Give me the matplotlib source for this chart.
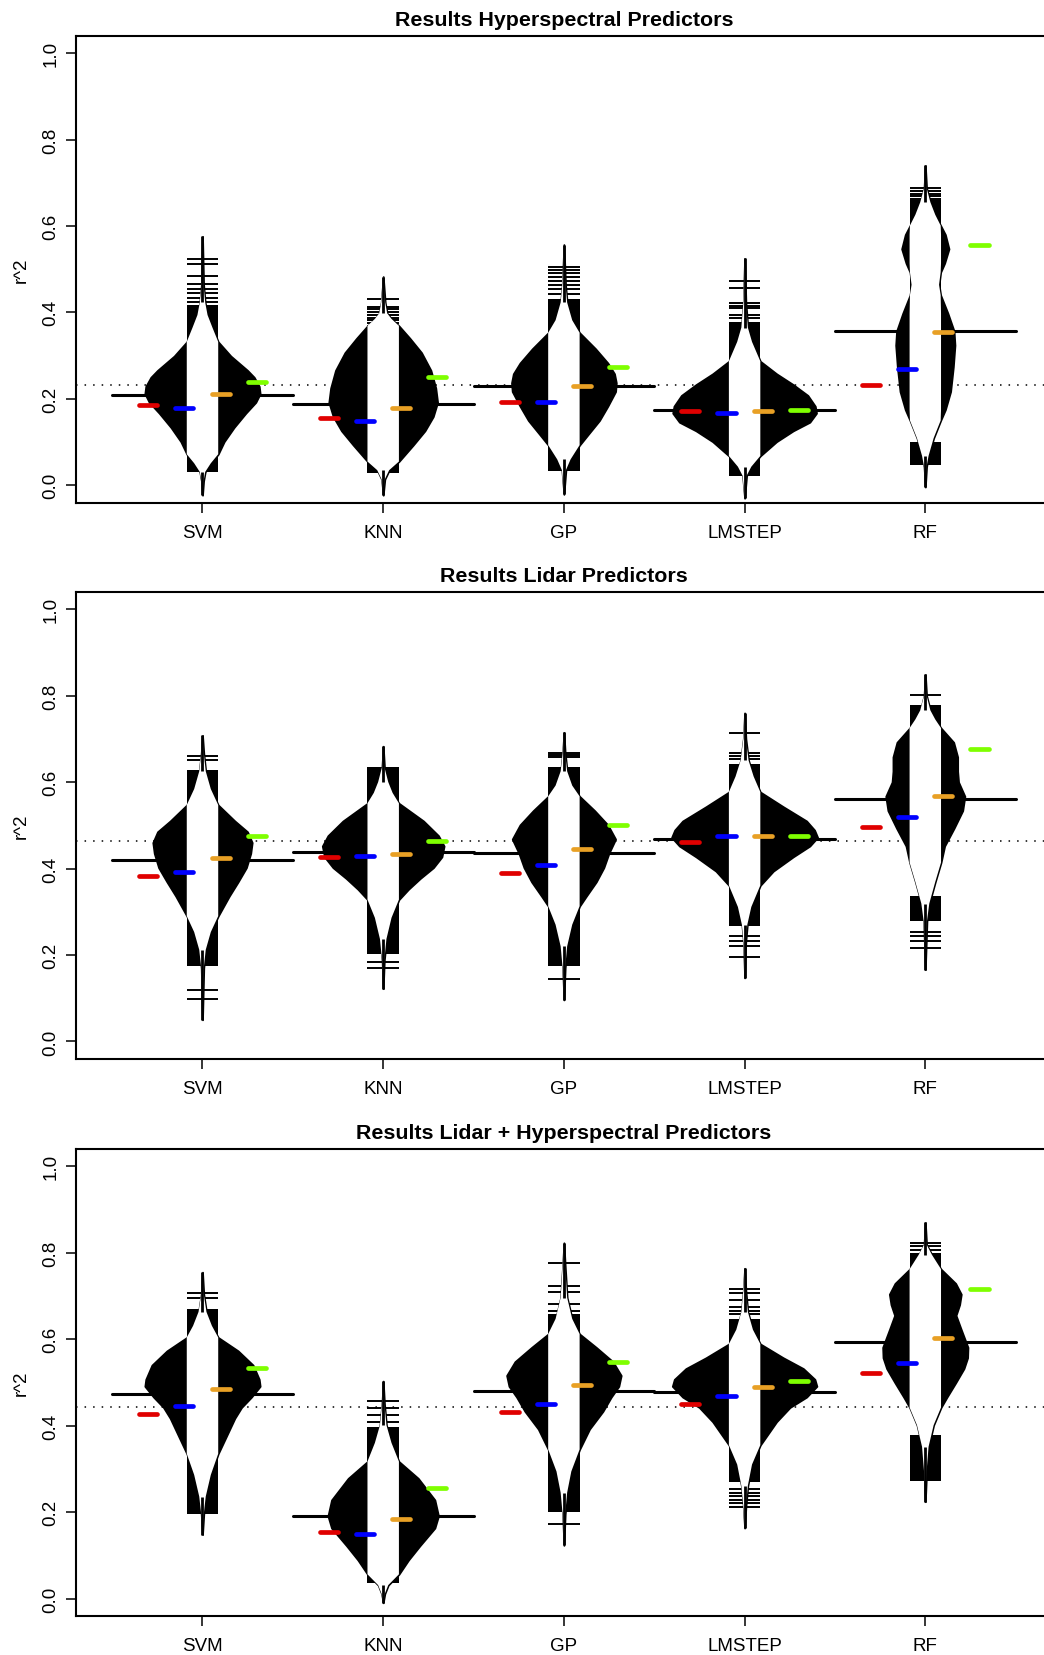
import matplotlib
matplotlib.use("Agg")
import matplotlib.pyplot as plt
import numpy as np

plt.rcParams['font.family'] = ['Liberation Sans', 'DejaVu Sans']

methods = ["SVM", "KNN", "GP", "LMSTEP", "RF"]
titles = ["Results Hyperspectral Predictors",
          "Results Lidar Predictors",
          "Results Lidar + Hyperspectral Predictors"]

# ---- hyperspectral ----
hyp_overall = 0.231
hyp_means = [0.210, 0.188, 0.229, 0.175, 0.357]
hyp_red = [0.186, 0.156, 0.193, 0.173, 0.232]
hyp_blue = [0.179, 0.149, 0.193, 0.167, 0.268]
hyp_orange = [0.211, 0.180, 0.230, 0.173, 0.354]
hyp_green = [0.238, 0.250, 0.274, 0.174, 0.555]
hyp_bean_y = [
    [0.576, 0.464, 0.423, 0.394, 0.365, 0.332, 0.299, 0.266, 0.250, 0.229, 0.212, 0.192, 0.167, 0.134, 0.101, 0.072, 0.051, 0.031, 0.010, -0.023],
    [0.483, 0.423, 0.398, 0.385, 0.369, 0.340, 0.307, 0.266, 0.225, 0.192, 0.159, 0.126, 0.093, 0.055, 0.035, 0.014, -0.023],
    [0.557, 0.464, 0.423, 0.382, 0.353, 0.316, 0.283, 0.258, 0.237, 0.217, 0.183, 0.150, 0.117, 0.093, 0.060, 0.035, -0.021],
    [0.525, 0.423, 0.365, 0.332, 0.287, 0.258, 0.233, 0.208, 0.183, 0.167, 0.146, 0.126, 0.101, 0.068, 0.043, 0.022, -0.030],
    [0.740, 0.688, 0.655, 0.626, 0.601, 0.580, 0.547, 0.514, 0.493, 0.464, 0.440, 0.398, 0.357, 0.324, 0.274, 0.217, 0.175, 0.150, 0.109, 0.068, 0.043, -0.004],
]
hyp_bean_w = [
    [0.0, 0.006, 0.015, 0.028, 0.055, 0.087, 0.157, 0.249, 0.286, 0.314, 0.319, 0.295, 0.240, 0.175, 0.120, 0.087, 0.046, 0.015, 0.006, 0.0],
    [0.0, 0.011, 0.022, 0.046, 0.087, 0.148, 0.212, 0.264, 0.291, 0.301, 0.277, 0.231, 0.166, 0.087, 0.033, 0.009, 0.0],
    [0.0, 0.009, 0.018, 0.046, 0.087, 0.175, 0.243, 0.280, 0.290, 0.286, 0.243, 0.197, 0.133, 0.087, 0.037, 0.011, 0.0],
    [0.0, 0.007, 0.018, 0.041, 0.087, 0.177, 0.269, 0.350, 0.391, 0.398, 0.361, 0.269, 0.177, 0.087, 0.037, 0.011, 0.0],
    [0.0, 0.007, 0.028, 0.055, 0.085, 0.111, 0.131, 0.107, 0.085, 0.076, 0.085, 0.125, 0.159, 0.164, 0.155, 0.140, 0.111, 0.085, 0.046, 0.018, 0.007, 0.0],
]
hyp_dense = [
    [(0.030, 0.418)],
    [(0.028, 0.370)],
    [(0.033, 0.431)],
    [(0.022, 0.378)],
    [(0.047, 0.100), (0.440, 0.493), (0.600, 0.660)],
]
hyp_rug = [
    [0.524, 0.511, 0.484, 0.466, 0.455, 0.445, 0.434, 0.424],
    [0.430, 0.413, 0.407, 0.400, 0.393, 0.388, 0.382, 0.375],
    [0.506, 0.499, 0.491, 0.483, 0.473, 0.464, 0.455, 0.443],
    [0.473, 0.456, 0.421, 0.416, 0.411, 0.394, 0.388],
    [0.688, 0.682, 0.675, 0.669, 0.663],
]

# ---- lidar ----
lid_overall = 0.464
lid_means = [0.419, 0.438, 0.436, 0.469, 0.562]
lid_red = [0.383, 0.426, 0.390, 0.462, 0.495]
lid_blue = [0.393, 0.428, 0.408, 0.475, 0.520]
lid_orange = [0.425, 0.434, 0.446, 0.475, 0.567]
lid_green = [0.475, 0.464, 0.500, 0.476, 0.677]
lid_bean_y = [
    [0.708, 0.667, 0.625, 0.584, 0.547, 0.510, 0.485, 0.460, 0.435, 0.402, 0.369, 0.336, 0.290, 0.253, 0.212, 0.170, 0.050],
    [0.683, 0.634, 0.600, 0.575, 0.551, 0.510, 0.476, 0.452, 0.427, 0.402, 0.377, 0.352, 0.328, 0.286, 0.237, 0.187, 0.122],
    [0.715, 0.667, 0.625, 0.592, 0.567, 0.534, 0.501, 0.468, 0.435, 0.402, 0.369, 0.336, 0.313, 0.270, 0.220, 0.170, 0.096],
    [0.760, 0.700, 0.650, 0.613, 0.577, 0.543, 0.510, 0.489, 0.472, 0.452, 0.427, 0.394, 0.361, 0.311, 0.270, 0.228, 0.147],
    [0.849, 0.800, 0.766, 0.745, 0.725, 0.692, 0.658, 0.625, 0.600, 0.567, 0.534, 0.493, 0.452, 0.414, 0.369, 0.319, 0.278, 0.166],
]
lid_bean_w = [
    [0.0, 0.007, 0.018, 0.046, 0.087, 0.179, 0.249, 0.275, 0.267, 0.243, 0.197, 0.148, 0.087, 0.046, 0.018, 0.007, 0.0],
    [0.0, 0.007, 0.028, 0.052, 0.087, 0.223, 0.306, 0.337, 0.325, 0.278, 0.205, 0.140, 0.087, 0.046, 0.018, 0.006, 0.0],
    [0.0, 0.007, 0.018, 0.046, 0.087, 0.170, 0.243, 0.286, 0.249, 0.221, 0.179, 0.124, 0.087, 0.046, 0.018, 0.007, 0.0],
    [0.0, 0.007, 0.022, 0.050, 0.087, 0.214, 0.343, 0.387, 0.404, 0.361, 0.269, 0.159, 0.087, 0.037, 0.015, 0.006, 0.0],
    [0.0, 0.007, 0.028, 0.055, 0.087, 0.157, 0.179, 0.179, 0.184, 0.219, 0.207, 0.159, 0.107, 0.087, 0.055, 0.022, 0.009, 0.0],
]
lid_dense = [
    [(0.175, 0.629)],
    [(0.203, 0.635)],
    [(0.175, 0.635)],
    [(0.266, 0.642)],
    [(0.278, 0.336), (0.725, 0.778)],
]
lid_rug = [
    [0.661, 0.650, 0.118, 0.098],
    [0.183, 0.170],
    [0.668, 0.662, 0.657, 0.144],
    [0.714, 0.668, 0.661, 0.653, 0.243, 0.232, 0.220, 0.195],
    [0.801, 0.253, 0.245, 0.232, 0.216],
]

# ---- lidar + hyperspectral ----
both_overall = 0.443
both_means = [0.474, 0.190, 0.480, 0.478, 0.593]
both_red = [0.428, 0.155, 0.432, 0.451, 0.521]
both_blue = [0.445, 0.149, 0.450, 0.468, 0.545]
both_orange = [0.485, 0.184, 0.493, 0.489, 0.603]
both_green = [0.534, 0.255, 0.548, 0.504, 0.715]
both_bean_y = [
    [0.755, 0.704, 0.663, 0.631, 0.604, 0.573, 0.540, 0.507, 0.491, 0.466, 0.442, 0.417, 0.384, 0.335, 0.286, 0.236, 0.195, 0.148],
    [0.503, 0.450, 0.401, 0.360, 0.317, 0.278, 0.228, 0.191, 0.163, 0.122, 0.089, 0.056, 0.031, 0.011, -0.010],
    [0.823, 0.770, 0.696, 0.647, 0.612, 0.581, 0.548, 0.516, 0.491, 0.466, 0.433, 0.392, 0.345, 0.294, 0.245, 0.195, 0.123],
    [0.764, 0.713, 0.663, 0.622, 0.589, 0.557, 0.532, 0.507, 0.491, 0.466, 0.442, 0.409, 0.355, 0.310, 0.261, 0.212, 0.163],
    [0.870, 0.819, 0.795, 0.762, 0.729, 0.704, 0.680, 0.655, 0.622, 0.581, 0.557, 0.532, 0.499, 0.466, 0.442, 0.401, 0.351, 0.294, 0.224],
]
both_bean_w = [
    [0.0, 0.007, 0.022, 0.052, 0.087, 0.197, 0.280, 0.314, 0.319, 0.271, 0.216, 0.179, 0.142, 0.087, 0.046, 0.018, 0.007, 0.0],
    [0.0, 0.007, 0.018, 0.046, 0.087, 0.194, 0.286, 0.306, 0.286, 0.203, 0.140, 0.087, 0.028, 0.009, 0.0],
    [0.0, 0.007, 0.018, 0.046, 0.087, 0.179, 0.271, 0.317, 0.304, 0.262, 0.216, 0.142, 0.087, 0.041, 0.018, 0.007, 0.0],
    [0.0, 0.007, 0.018, 0.046, 0.087, 0.214, 0.325, 0.389, 0.400, 0.343, 0.251, 0.177, 0.087, 0.041, 0.018, 0.007, 0.0],
    [0.0, 0.007, 0.037, 0.087, 0.168, 0.199, 0.190, 0.170, 0.199, 0.236, 0.234, 0.214, 0.168, 0.120, 0.087, 0.046, 0.018, 0.007, 0.0],
]
both_dense = [
    [(0.195, 0.670)],
    [(0.035, 0.397)],
    [(0.200, 0.659)],
    [(0.269, 0.647)],
    [(0.273, 0.378), (0.762, 0.800)],
]
both_rug = [
    [0.707, 0.696],
    [0.456, 0.440, 0.425, 0.409],
    [0.776, 0.723, 0.709, 0.681, 0.666, 0.173],
    [0.715, 0.706, 0.690, 0.674, 0.666, 0.658, 0.253, 0.245, 0.237, 0.228, 0.220, 0.212],
    [0.822, 0.815, 0.807],
]

RED, BLUE, ORANGE, GREEN = "#e00000", "#0000ff", "#e8a025", "#7fff00"
BAND = 0.087

W, H = 1044, 1656
fig = plt.figure(figsize=(W / 100, H / 100), dpi=100)

panels = [
    (36.8, hyp_overall, hyp_means, [hyp_red, hyp_blue, hyp_orange, hyp_green], hyp_bean_y, hyp_bean_w, hyp_dense, hyp_rug),
    (592.9, lid_overall, lid_means, [lid_red, lid_blue, lid_orange, lid_green], lid_bean_y, lid_bean_w, lid_dense, lid_rug),
    (1150.0, both_overall, both_means, [both_red, both_blue, both_orange, both_green], both_bean_y, both_bean_w, both_dense, both_rug),
]

ax_h = 466.8
ax_l = 76.0
ax_w = 975.8

for k, (top, overall, means, marks, bys, bws, dense, rugs) in enumerate(panels):
    ax = fig.add_axes([ax_l / W, 1 - (top + ax_h) / H, ax_w / W, ax_h / H])
    ax.set_xlim(0.3, 5.7)
    ax.set_ylim(-0.04, 1.04)
    for s in ax.spines.values():
        s.set_linewidth(1.5)

    ax.axhline(overall, color="black", lw=1.1, ls=(0, (1, 4.6)), zorder=0.5)

    for i in range(5):
        x0 = i + 1
        ax.plot([x0 - 0.5, x0 + 0.5], [means[i]] * 2, color="black", lw=2.2,
                solid_capstyle="round", zorder=1)
        ys = np.array(bys[i])
        ws = np.array(bws[i])
        ax.fill_betweenx(ys, x0 - ws, x0 + ws, facecolor="black",
                         edgecolor="black", lw=1.3, zorder=2)
        for lo, hi in dense[i]:
            ax.fill_between([x0 - BAND, x0 + BAND], lo, hi, color="black",
                            lw=0, zorder=3)
        for r in rugs[i]:
            ax.plot([x0 - BAND, x0 + BAND], [r, r], color="black", lw=1.4,
                    solid_capstyle="butt", zorder=3)
        wi = np.minimum(ws, BAND)
        ax.fill_betweenx(ys, x0 - wi, x0 + wi, facecolor="white", lw=0, zorder=4)
        # thin tails at both ends of the bean
        for seg in ([ys[0], ys[2]], [ys[-3], ys[-1]]):
            ax.plot([x0, x0], seg, color="black", lw=2.0,
                    solid_capstyle="butt", zorder=4.5)

        for off, vals, c in zip([-0.3, -0.1, 0.1, 0.3], marks,
                                [RED, BLUE, ORANGE, GREEN]):
            ax.plot([x0 + off - 0.05, x0 + off + 0.05], [vals[i]] * 2, color=c,
                    lw=3.4, solid_capstyle="round", zorder=5)

    ax.set_xticks(range(1, 6))
    ax.set_xticklabels(methods, fontsize=13.5)
    ax.set_yticks([0, 0.2, 0.4, 0.6, 0.8, 1.0])
    ax.set_yticklabels(["0.0", "0.2", "0.4", "0.6", "0.8", "1.0"], fontsize=13.5,
                       rotation=90, va="center")
    ax.tick_params(length=7.5, width=1.1)
    ax.tick_params(axis="x", pad=8)
    ax.tick_params(axis="y", pad=4.5)

    fig.text((ax_l + ax_w / 2) / W, 1 - (top - 10.8) / H, titles[k],
             ha="center", va="baseline", fontsize=15.4, fontweight="bold")
    fig.text(21 / W, 1 - (top + ax_h / 2) / H, "r^2", rotation=90,
             ha="center", va="center", fontsize=13.5)

fig.savefig("out.png", dpi=100)
